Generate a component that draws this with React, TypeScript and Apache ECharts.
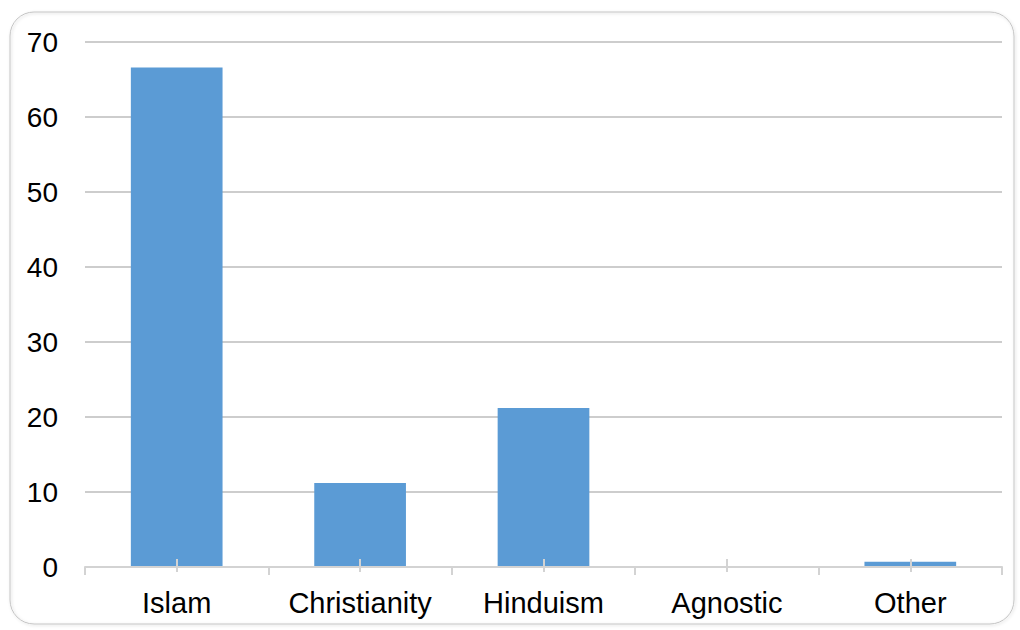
import React, { useEffect, useRef } from "react";
import * as echarts from "echarts";

const categories = ["Islam", "Christianity", "Hinduism", "Agnostic", "Other"];
const values = [66.6, 11.2, 21.2, 0, 0.7];
const yTicks = { min: 0, max: 70, interval: 10 };

export default function App() {
  const ref = useRef<HTMLDivElement>(null);
  useEffect(() => {
    const chart = echarts.init(ref.current!, null, { renderer: "svg" });
    const font = "'Liberation Sans', Arial, sans-serif";
    const axisColor = "#d3d3d3";
    chart.setOption({
      animation: false,
      backgroundColor: "#ffffff",
      grid: { left: 85, right: 18, top: 42, bottom: 63, containLabel: false },
      graphic: [
        {
          type: "rect",
          shape: { x: 10, y: 12, width: 1004, height: 612, r: 24 },
          style: {
            fill: "none",
            stroke: "#c4c4c4",
            lineWidth: 1,
            shadowBlur: 3,
            shadowColor: "rgba(0,0,0,0.18)",
            shadowOffsetX: 1,
            shadowOffsetY: 1,
          },
          z: -1,
        },
      ],
      xAxis: [
        {
          type: "category",
          data: categories,
          boundaryGap: true,
          z: 5,
          axisLine: { show: true, lineStyle: { color: axisColor, width: 2 } },
          axisTick: { show: true, alignWithLabel: false, interval: 0, length: 8, lineStyle: { color: axisColor, width: 2 } },
          axisLabel: { fontSize: 29, color: "#000", fontFamily: font, margin: 21, interval: 0, hideOverlap: false },
          splitLine: { show: false },
        },
        {
          type: "category",
          data: categories,
          position: "bottom",
          boundaryGap: true,
          z: 5,
          axisLine: { show: false },
          axisTick: { show: true, alignWithLabel: true, interval: 0, inside: true, length: 8, lineStyle: { color: axisColor, width: 2 } },
          axisLabel: { show: false },
          splitLine: { show: false },
        },
        {
          type: "category",
          data: categories,
          position: "bottom",
          boundaryGap: true,
          z: 5,
          axisLine: { show: false },
          axisTick: { show: true, alignWithLabel: true, interval: 0, inside: false, length: 5, lineStyle: { color: axisColor, width: 2 } },
          axisLabel: { show: false },
          splitLine: { show: false },
        },
      ],
      yAxis: {
        type: "value",
        min: yTicks.min,
        max: yTicks.max,
        interval: yTicks.interval,
        axisLine: { show: false },
        axisTick: { show: false },
        axisLabel: { fontSize: 28, color: "#000", fontFamily: font, margin: 27 },
        splitLine: { show: true, lineStyle: { color: "#bdbdbd", width: 1.5 } },
      },
      series: [
        {
          type: "bar",
          data: values,
          xAxisIndex: 0,
          barCategoryGap: "50%",
          itemStyle: { color: "#5b9bd5" },
          z: 2,
        },
      ],
    });
    return () => chart.dispose();
  }, []);
  return (
    <div
      ref={ref}
      style={{ position: "fixed", left: 0, top: 0, width: 1020, height: 630 }}
    />
  );
}
